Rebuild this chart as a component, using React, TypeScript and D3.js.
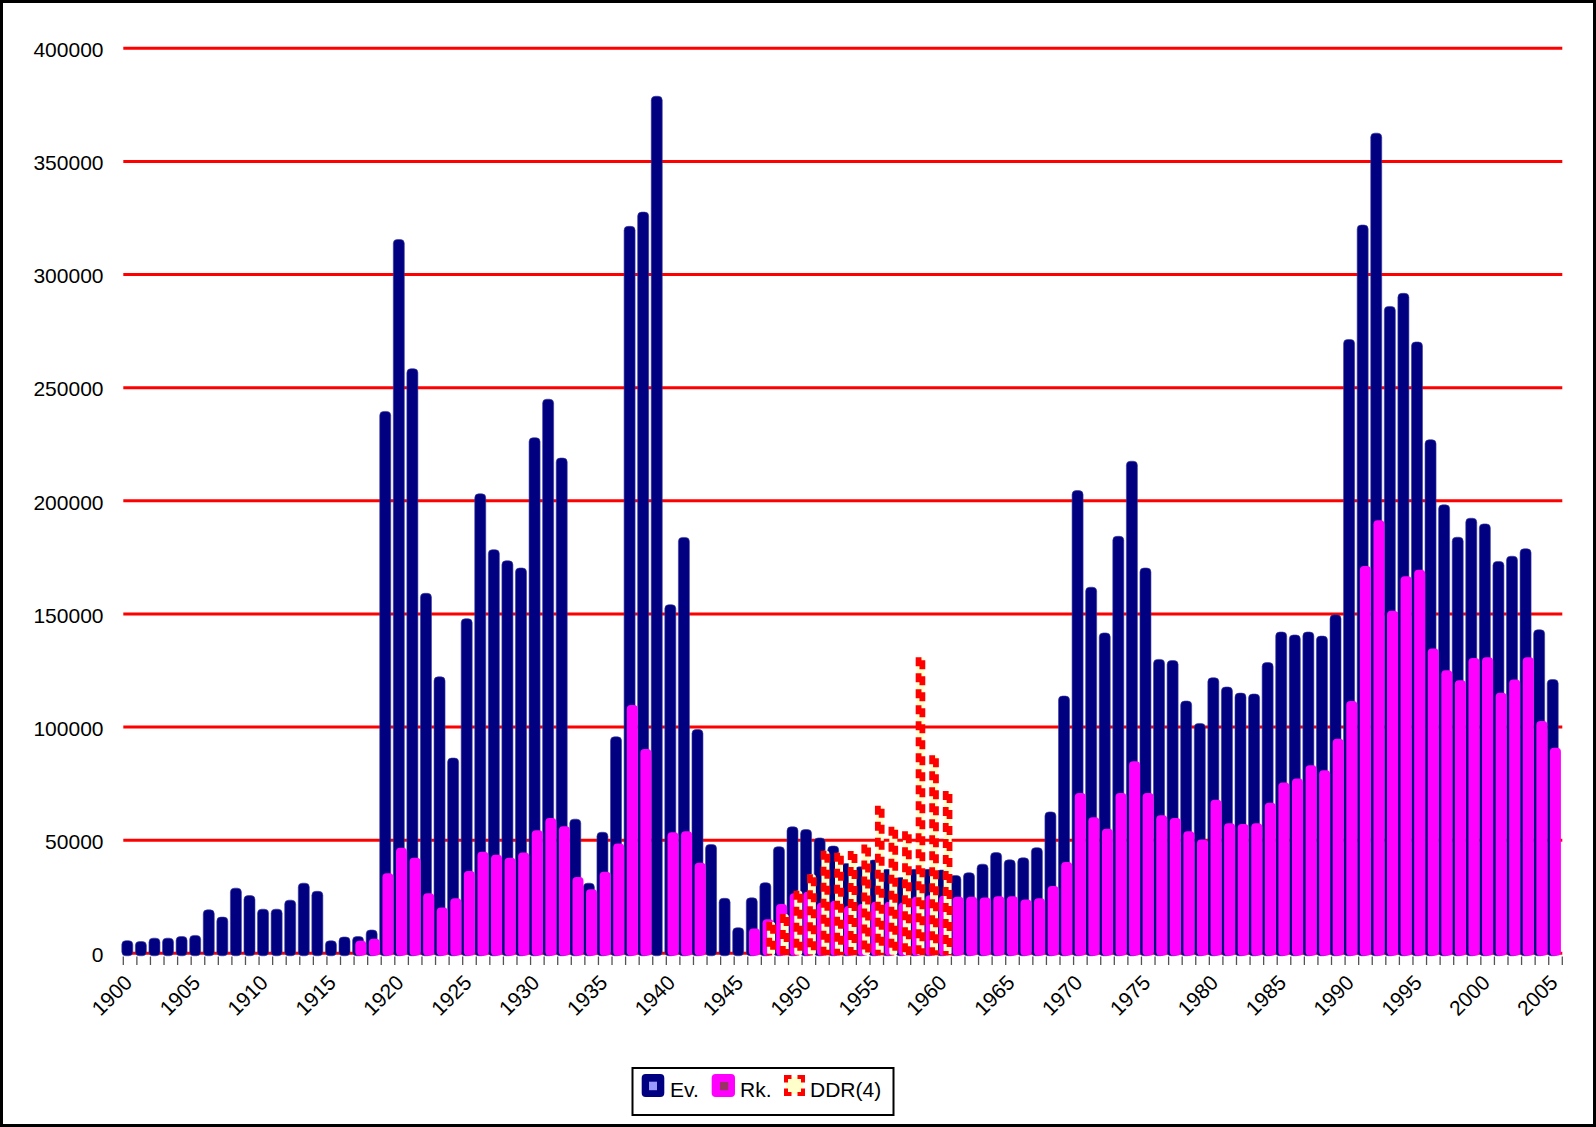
import React from "react";
import * as d3 from "d3";

// ---------- data ----------
const years: number[] = d3.range(1900, 2006);

const evValues: (number | null)[] = [
  5600, 5200, 6700, 6700, 7400, 7900, 19200, 16000, 28800, 25500,
  19500, 19500, 23500, 31000, 27400, 5500, 7200, 7400, 10300, 239500,
  315500, 258400, 159100, 122200, 86300, 147900, 203100, 178400, 173500, 170300,
  227900, 244900, 218900, 59300, 31000, 53500, 95700, 321300, 327600, 378800,
  154100, 183800, 98900, 48100, 24300, 11300, 24500, 31200, 47100, 55900,
  54700, 51000, 47400, 39700, 38200, 41200, 37100, 33500, 37100, 37100,
  36800, 34400, 35600, 39400, 44500, 41300, 42200, 46700, 62500, 113700,
  204500, 161800, 141600, 184300, 217500, 170300, 129900, 129400, 111500, 101600,
  121800, 117700, 115000, 114600, 128500, 142000, 140700, 142000, 140200, 149600,
  271300, 321900, 362500, 285900, 291700, 270200, 227000, 198200, 183900, 192300,
  189800, 173200, 175500, 178800, 143000, 121000,
];

const rkValues: (number | null)[] = [
  null, null, null, null, null, null, null, null, null, null,
  null, null, null, null, null, null, null, 5600, 6400, 35400,
  46700, 42200, 26500, 20200, 24300, 36400, 44900, 43600, 42200, 44500,
  54400, 59800, 56200, 33700, 28300, 36000, 48500, 109700, 90300, null,
  53500, 54000, 40000, null, null, null, 11000, 15000, 21800, 26500,
  27200, 22300, 23200, 20900, 21800, 22800, 22800, 22300, 25000, 25700,
  25400, 25000, 25000, 24700, 25200, 25200, 23800, 24300, 29700, 40400,
  70900, 60100, 55100, 70900, 84900, 70900, 61000, 59800, 53900, 50300,
  67900, 57500, 57100, 57500, 66500, 75500, 77300, 83100, 80900, 94800,
  111500, 171200, 191400, 151400, 166600, 169500, 134700, 125100, 120700, 130500,
  130900, 115200, 121000, 130900, 102700, 90900,
];

const ddrYears: number[] = [1947, 1948, 1949, 1950, 1951, 1952, 1953, 1954, 1955, 1956, 1957, 1958, 1959, 1960];
const ddrValues: number[] = [13900, 17400, 27600, 34900, 45300, 44400, 45200, 48100, 65200, 55900, 53900, 130900, 87500, 71700];

const yTicks: number[] = [0, 50000, 100000, 150000, 200000, 250000, 300000, 350000, 400000];
const xLabelYears: number[] = years.filter((yr) => yr % 5 === 0);

const legendItems = ["Ev.", "Rk.", "DDR(4)"];

// ---------- component ----------
const W = 1596;
const H = 1127;
const FONT = "'Liberation Sans', Arial, sans-serif";
const NAVY = "#000080";
const MAGENTA = "#FF00FF";

export default function App() {
  const x = d3.scaleBand<number>().domain(years).range([123.3, 1562.3]).padding(0);
  const y = d3.scaleLinear().domain([0, 400000]).range([953.3, 48.3]);
  const bw = x.bandwidth();
  const base = y(0) + 2.5;

  const evData = years.map((yr, i) => ({ yr, v: evValues[i] })).filter((d) => d.v != null) as { yr: number; v: number }[];
  const rkData = years.map((yr, i) => ({ yr, v: rkValues[i] })).filter((d) => d.v != null) as { yr: number; v: number }[];
  const ddrData = ddrYears.map((yr, i) => ({ yr, v: ddrValues[i] }));

  const boundaries = [...years.map((yr) => x(yr) as number), (x(years[years.length - 1]) as number) + bw];

  return (
    <svg
      width={W}
      height={H}
      style={{ position: "absolute", left: 0, top: 0, background: "#fff" }}
      fontFamily={FONT}
    >
      <rect x={0} y={0} width={W} height={H} fill="#fff" />
      {/* gridlines */}
      {yTicks.map((t) => (
        <line key={"g" + t} x1={x.range()[0]} x2={x.range()[1]} y1={y(t)} y2={y(t)} stroke="#FF0000" strokeWidth={3} />
      ))}
      {/* y labels */}
      {yTicks.map((t) => (
        <text key={"yl" + t} x={103.5} y={y(t) + 8.8} textAnchor="end" fontSize={21} fill="#000">
          {t}
        </text>
      ))}
      {/* Ev bars */}
      {evData.map((d) => (
        <rect
          key={"ev" + d.yr}
          x={(x(d.yr) as number) - 1.5}
          width={11}
          y={y(d.v)}
          height={base - y(d.v)}
          rx={4}
          ry={4}
          fill={NAVY}
          stroke="#3a3a9e"
          strokeWidth={0.6}
        />
      ))}
      {/* Rk bars */}
      {rkData.map((d) => (
        <rect
          key={"rk" + d.yr}
          x={(x(d.yr) as number) + 1.2}
          width={11}
          y={y(d.v)}
          height={base - y(d.v)}
          rx={4}
          ry={4}
          fill={MAGENTA}
        />
      ))}
      {/* DDR bars */}
      {ddrData.map((d) => {
        const c = (x(d.yr) as number) + 9.8;
        const top = y(d.v);
        return (
          <g key={"ddr" + d.yr}>
            <rect x={c - 4} width={8} y={top} height={base - 0.5 - top} rx={3} fill="#FFFFCC" />
            <line x1={c - 1.9} x2={c - 1.9} y1={top} y2={base - 0.5} stroke="#FF0000" strokeWidth={5.8} strokeDasharray="9 7" />
            <line x1={c + 1.9} x2={c + 1.9} y1={top} y2={base - 0.5} stroke="#FF0000" strokeWidth={5.8} strokeDasharray="9 7" strokeDashoffset={-3} />
          </g>
        );
      })}
      {/* category ticks */}
      {boundaries.map((bx, i) => (
        <line key={"t" + i} x1={bx} x2={bx} y1={956.5} y2={965} stroke="#555" strokeWidth={1.3} />
      ))}
      {/* x labels */}
      {xLabelYears.map((yr) => {
        const cx = (x(yr) as number) + bw / 2 + 3.5;
        return (
          <text key={"xl" + yr} transform={`translate(${cx},${984}) rotate(-45)`} textAnchor="end" fontSize={21} fill="#000">
            {yr}
          </text>
        );
      })}
      {/* legend */}
      <g>
        <rect x={632.5} y={1068} width={261} height={47} fill="#fff" stroke="#000" strokeWidth={2} />
        <rect x={641.7} y={1074} width={22.6} height={23} rx={4} fill={NAVY} />
        <rect x={649} y={1081.7} width={8} height={8.5} fill="#9999FF" />
        <text x={670} y={1097.3} fontSize={21}>{legendItems[0]}</text>
        <rect x={711.7} y={1074} width={23.3} height={23} rx={4} fill={MAGENTA} />
        <rect x={720} y={1082} width={8.3} height={8.3} fill="#993366" />
        <text x={740} y={1097.3} fontSize={21}>{legendItems[1]}</text>
        <rect
          x={786}
          y={1077}
          width={17}
          height={17}
          fill="#FFFFCC"
          stroke="#FF0000"
          strokeWidth={4}
          strokeDasharray="11 6"
          strokeDashoffset={5.5}
        />
        <text x={810} y={1097.3} fontSize={21}>{legendItems[2]}</text>
      </g>
      {/* outer frame */}
      <rect x={1.5} y={1.5} width={W - 3} height={H - 3} fill="none" stroke="#000" strokeWidth={3} />
    </svg>
  );
}
